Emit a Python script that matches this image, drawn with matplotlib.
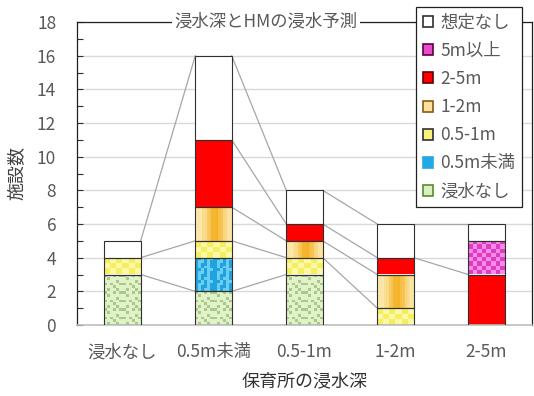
import numpy as np
import matplotlib.pyplot as plt
from matplotlib.colors import to_rgb
from matplotlib.patches import Patch

plt.rcParams['font.family'] = ['Noto Sans CJK JP', 'DejaVu Sans']

# 保育所の浸水深ごとの施設数（HM予測別の内訳）
categories = ['浸水なし', '0.5m未満', '0.5-1m', '1-2m', '2-5m']
series_names = ['浸水なし', '0.5m未満', '0.5-1m', '1-2m', '2-5m', '5m以上', '想定なし']
no_flood = [3, 2, 3, 0, 0]
under_05 = [0, 2, 0, 0, 0]
m05_1 = [1, 1, 1, 1, 0]
m1_2 = [0, 2, 1, 2, 0]
m2_5 = [0, 4, 1, 1, 3]
over_5 = [0, 0, 0, 0, 2]
unknown = [1, 5, 2, 2, 1]

values = np.array([no_flood, under_05, m05_1, m1_2, m2_5, over_5, unknown], dtype=float)
textures = ['green', 'blue', 'yellow', 'orange', 'red', 'magenta', 'white']
legend_face = ['#d9efc0', '#22a8e4', '#f8f27a', '#fbe0a0', '#ff0000', '#e64ccc', '#ffffff']
legend_edge = ['#5a8a30', '#22a8e4', '#303030', '#8a5a10', '#600000', '#600040', '#303030']

GREEN_TILE = np.array([[0, 1, 0, 0, 1, 0],
                       [0, 0, 0, 1, 0, 0],
                       [1, 0, 1, 0, 0, 1],
                       [0, 0, 0, 0, 1, 0],
                       [0, 1, 0, 0, 0, 0],
                       [1, 0, 0, 1, 0, 1]])
BLUE_TILE = np.array([[0, 1, 0, 1, 1, 0],
                      [0, 1, 0, 0, 1, 0],
                      [0, 1, 1, 0, 1, 0],
                      [0, 0, 1, 0, 1, 1]])


def mix(c1, c2, m):
    c1, c2 = np.array(to_rgb(c1)), np.array(to_rgb(c2))
    m = np.asarray(m, dtype=float)[..., None]
    return c1 * (1 - m) + c2 * m


def texture(kind, height):
    """Small pixel-pattern image for one bar segment."""
    nrows = max(1, int(round(height * 6)))
    r, c = np.mgrid[0:nrows, 0:12]
    if kind == 'green':
        return mix('#e2f2c8', '#a9c98c', GREEN_TILE[r % 6, c % 6])
    if kind == 'blue':
        return mix('#1fa3df', '#6ccdf3', BLUE_TILE[r % 4, c % 6])
    if kind == 'yellow':
        r, c = np.mgrid[0:max(1, int(round(height * 3))), 0:6]
        return mix('#f4ee60', '#fbf8a8', (r + c) % 2)
    if kind == 'orange':
        r, c = np.mgrid[0:1, 0:16]
        t = (c + 0.5) / 16
        m = np.exp(-((t - 0.55) / 0.26) ** 2) * 0.9 + (c % 2) * 0.08
        return mix('#fdedb8', '#f4b021', np.clip(m, 0, 1))
    if kind == 'magenta':
        r, c = np.mgrid[0:max(1, int(round(height * 4))), 0:8]
        return mix('#de3cc2', '#f68ce6', (r + c) % 2)
    col = {'red': '#ff0000', 'white': '#ffffff'}[kind]
    return mix(col, col, np.zeros((1, 1)))


fig = plt.figure(figsize=(5.34, 3.96), dpi=100)
ax = fig.add_axes([77 / 534, 71 / 396, 455 / 534, 303 / 396])

x = np.arange(len(categories))
width = 0.4
bottoms = np.zeros(len(categories))
tops = []
for vals, kind in zip(values, textures):
    bars = ax.bar(x, vals, width, bottom=bottoms, color='white', edgecolor='none', zorder=2)
    for patch, v in zip(bars, vals):
        if v <= 0:
            continue
        x0, y0 = patch.get_x(), patch.get_y()
        img = ax.imshow(texture(kind, v), extent=(x0, x0 + patch.get_width(), y0, y0 + v),
                        origin='lower', aspect='auto', interpolation='nearest', zorder=2.5)
        img.set_clip_path(patch)
    shown = vals > 0
    ax.bar(x[shown], vals[shown], width, bottom=bottoms[shown], fill=False,
           edgecolor='#303030', linewidth=0.8, zorder=3)
    bottoms = bottoms + vals
    tops.append(np.where(shown, bottoms, np.nan))

# Series lines between neighbouring bars (only where both have the series)
for top in tops:
    for i in range(len(categories) - 1):
        if np.isnan(top[i]) or np.isnan(top[i + 1]):
            continue
        ax.plot([x[i] + width / 2, x[i + 1] - width / 2], [top[i], top[i + 1]],
                color='#a6a6a6', linewidth=0.9, zorder=1.5)

ax.set_xlim(-0.5, len(categories) - 0.5)
ax.set_ylim(0, 18)
ax.set_yticks(np.arange(0, 19, 2))
ax.set_yticks(np.arange(0, 19, 1), minor=True)
ax.yaxis.grid(True, color='#d9d9d9', linewidth=1, zorder=0)
ax.set_axisbelow(True)
ax.tick_params(axis='y', which='both', direction='in', length=4, width=0.8,
               color='#303030', labelsize=12.5, labelcolor='#595959', pad=15)
ax.set_xticks(x)
ax.set_xticklabels(categories)
ax.tick_params(axis='x', length=0, labelsize=12.5, labelcolor='#595959', pad=13)
for side in ['left', 'top', 'right']:
    ax.spines[side].set_color('#202020')
    ax.spines[side].set_linewidth(0.9)
ax.spines['bottom'].set_color('#bfbfbf')
ax.spines['bottom'].set_linewidth(1.2)

ax.set_xlabel('保育所の浸水深', fontsize=13, color='#333333', labelpad=8)
ax.set_ylabel('施設数', fontsize=13, color='#404040', labelpad=8)

fig.text(266 / 534, 1 - 22 / 396, '浸水深とHMの浸水予測', ha='center', va='center',
         fontsize=12.5, color='#595959',
         bbox=dict(facecolor='white', edgecolor='none', pad=1.5))

handles = [Patch(facecolor=f, edgecolor=e, linewidth=1.2)
           for f, e in zip(legend_face, legend_edge)]
leg = fig.legend(handles[::-1], series_names[::-1], loc='upper left',
                 bbox_to_anchor=(416 / 534, 1 - 7 / 396), fontsize=12.5,
                 labelcolor='#595959', frameon=True, fancybox=False, framealpha=1,
                 edgecolor='#202020', handlelength=0.6, handleheight=0.6,
                 handletextpad=0.4, labelspacing=0.58, borderpad=0.4,
                 borderaxespad=0)
leg.get_frame().set_linewidth(0.9)

fig.savefig('out.png', dpi=100)
